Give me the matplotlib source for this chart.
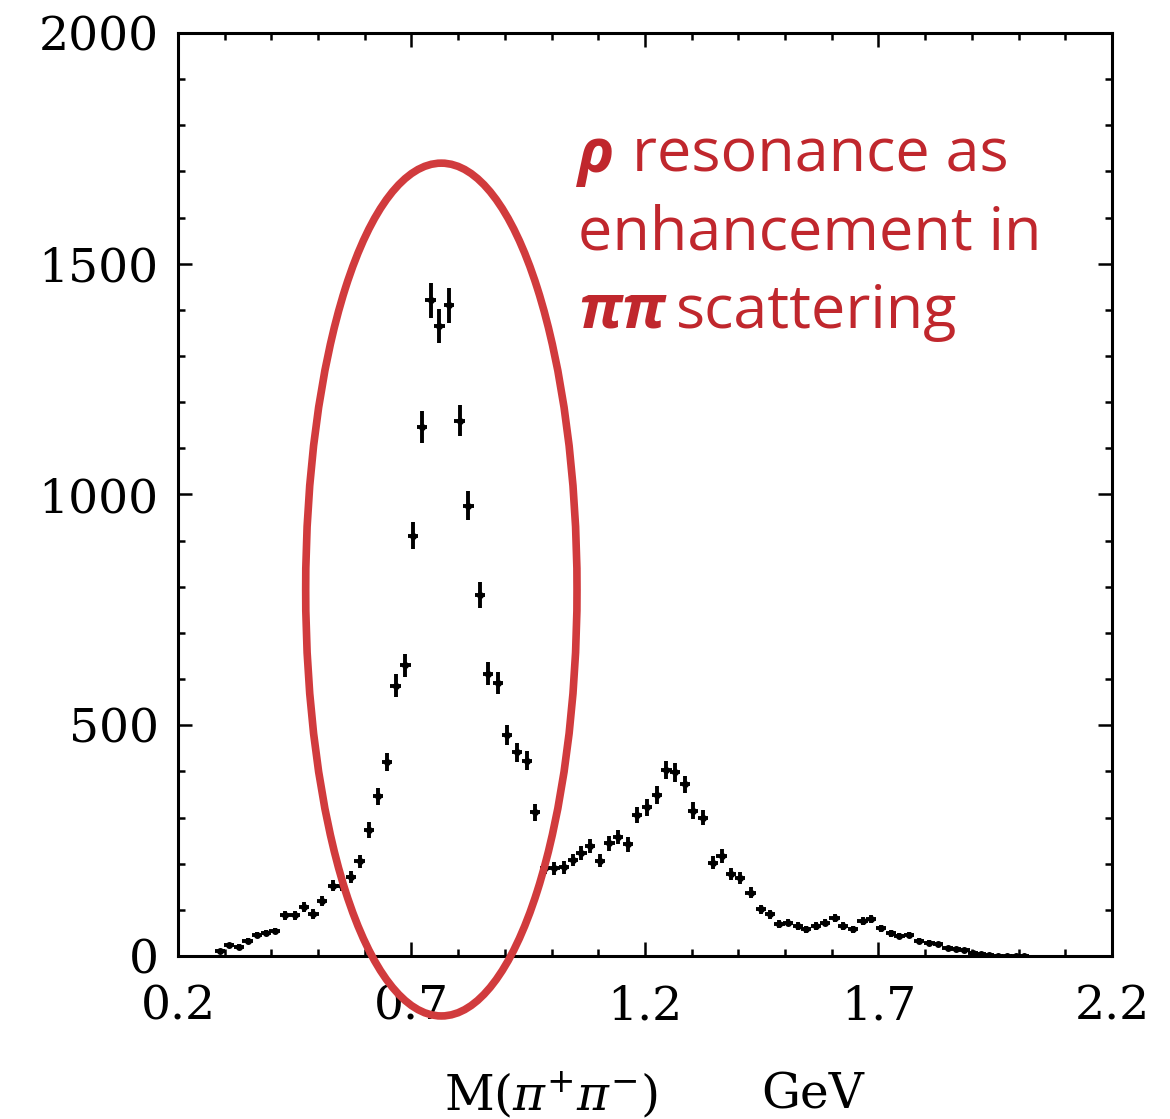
import matplotlib
matplotlib.use("Agg")
import matplotlib.pyplot as plt
from matplotlib.patches import Ellipse, Rectangle
from matplotlib.ticker import MultipleLocator

# ---- data ----
mass = [0.290, 0.310, 0.330, 0.349, 0.369, 0.388, 0.407, 0.429, 0.450, 0.470,
        0.490, 0.509, 0.532, 0.552, 0.570, 0.589, 0.609, 0.628, 0.648, 0.666,
        0.687, 0.704, 0.723, 0.741, 0.760, 0.780, 0.803, 0.822, 0.846, 0.864,
        0.885, 0.904, 0.926, 0.947, 0.965, 0.986, 1.006, 1.026, 1.046, 1.064,
        1.083, 1.104, 1.124, 1.143, 1.164, 1.183, 1.204, 1.225, 1.246, 1.264,
        1.285, 1.303, 1.325, 1.346, 1.364, 1.385, 1.403, 1.426, 1.449, 1.467,
        1.488, 1.506, 1.528, 1.545, 1.567, 1.585, 1.606, 1.624, 1.645, 1.666,
        1.684, 1.705, 1.727, 1.745, 1.766, 1.787, 1.809, 1.827, 1.848, 1.866,
        1.884, 1.902, 1.920, 1.937, 1.955, 1.976, 1.995, 2.012]
events = [10, 24, 20, 33, 45, 50, 54, 88, 88, 106,
          91, 119, 152, 152, 171, 205, 273, 346, 420, 586,
          630, 911, 1146, 1421, 1366, 1410, 1160, 976, 783, 612,
          591, 479, 441, 423, 311, 191, 190, 192, 208, 223,
          238, 206, 244, 258, 242, 306, 322, 349, 403, 398,
          372, 315, 300, 202, 217, 177, 170, 137, 101, 90,
          69, 72, 65, 58, 65, 72, 83, 65, 58, 76,
          80, 60, 49, 43, 46, 33, 29, 25, 18, 16,
          13, 7, 4, 2, 1, 0, 0, 0]
errors = [3, 5, 5, 6, 7, 7, 7, 9, 9, 10,
          10, 11, 12, 12, 13, 14, 17, 19, 20, 24,
          25, 30, 34, 38, 37, 38, 34, 31, 28, 25,
          24, 22, 21, 21, 18, 14, 14, 14, 14, 15,
          15, 14, 16, 16, 16, 17, 18, 19, 20, 20,
          19, 18, 17, 14, 15, 13, 13, 12, 10, 9,
          8, 8, 8, 8, 8, 8, 9, 8, 8, 9,
          9, 8, 7, 7, 7, 6, 5, 5, 4, 4,
          4, 3, 2, 2, 1, 1, 1, 1]
bin_half = 0.011

x_ticks = [0.2, 0.7, 1.2, 1.7, 2.2]
x_ticklabels = ["0.2", "0.7", "1.2", "1.7", "2.2"]
y_ticks = [0, 500, 1000, 1500, 2000]
y_ticklabels = ["0", "500", "1000", "1500", "2000"]

note_color = "#C0272D"
ring_color = "#D13B3D"

plt.rcParams['mathtext.fontset'] = 'dejavuserif'

fig = plt.figure(figsize=(11.70, 11.19), dpi=100)
ax = fig.add_axes([0.1521, 0.1457, 0.7983, 0.8248])

ax.errorbar(mass, events, yerr=errors, xerr=bin_half, fmt='o', ms=4,
            color='black', ecolor='black', elinewidth=2.8, capsize=0)

ax.set_xlim(0.2, 2.2)
ax.set_ylim(0, 2000)
ax.set_xticks(x_ticks)
ax.set_xticklabels(x_ticklabels)
ax.set_yticks(y_ticks)
ax.set_yticklabels(y_ticklabels)
ax.xaxis.set_minor_locator(MultipleLocator(0.1))
ax.yaxis.set_minor_locator(MultipleLocator(100))
ax.tick_params(which='both', direction='in', top=True, right=True,
               colors='black', width=1.8)
ax.tick_params(which='major', length=10)
ax.tick_params(which='minor', length=5)
ax.tick_params(axis='y', which='major', pad=14)
ax.tick_params(axis='x', which='major', pad=20)
for lab in ax.get_xticklabels() + ax.get_yticklabels():
    lab.set_fontfamily('DejaVu Serif')
    lab.set_fontsize(34)
for sp in ax.spines.values():
    sp.set_linewidth(2.2)

# axis title placed explicitly below the tick labels
fig.text(551/1170, 1 - 1095/1119, r'M$(\pi^{+}\pi^{-})$',
         fontfamily='DejaVu Serif', fontsize=35, ha='center', va='center')
fig.text(813/1170, 1 - 1095/1119, 'GeV',
         fontfamily='DejaVu Serif', fontsize=35, ha='center', va='center')

# white note box
ax.add_patch(Rectangle((0.99, 1320), 1.15, 575, facecolor='white',
                       edgecolor='none', zorder=1))

# ellipse highlighting the rho peak
ell = Ellipse((0.764, 794), width=0.581, height=1848, fill=False,
              edgecolor=ring_color, linewidth=5.5, clip_on=False, zorder=5)
ax.add_patch(ell)

fs = 44
fig.text(578/1170, 1 - 172/1119, 'ρ', color=note_color, fontsize=fs,
         fontfamily='Open Sans', fontweight='bold', fontstyle='italic',
         va='baseline', ha='left')
fig.text(632/1170, 1 - 172/1119, 'resonance as', color=note_color, fontsize=fs,
         fontfamily='Open Sans', va='baseline', ha='left')
fig.text(578/1170, 1 - 250/1119, 'enhancement in', color=note_color, fontsize=fs,
         fontfamily='Open Sans', va='baseline', ha='left')
fig.text(578/1170, 1 - 328/1119, 'ππ', color=note_color, fontsize=fs,
         fontfamily='Open Sans', fontweight='bold', fontstyle='italic',
         va='baseline', ha='left')
fig.text(676/1170, 1 - 328/1119, 'scattering', color=note_color, fontsize=fs,
         fontfamily='Open Sans', va='baseline', ha='left')

fig.savefig('out.png', dpi=100, facecolor='white')
